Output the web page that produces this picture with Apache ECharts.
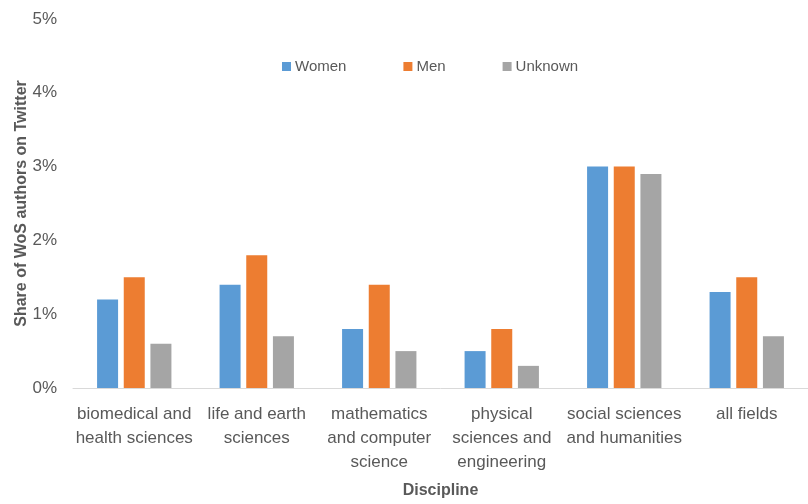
<!DOCTYPE html>
<html><head><meta charset="utf-8">
<script src="https://cdn.jsdelivr.net/npm/echarts@6/dist/echarts.min.js"></script>
<style>html,body{margin:0;padding:0;background:#fff}#c{width:808px;height:504px}</style>
</head><body><div id="c"></div>
<script>
const categories = ["biomedical and\nhealth sciences","life and earth\nsciences","mathematics\nand computer\nscience","physical\nsciences and\nengineering","social sciences\nand humanities","all fields"];
const women = [1.2, 1.4, 0.8, 0.5, 3.0, 1.3];
const men = [1.5, 1.8, 1.4, 0.8, 3.0, 1.5];
const unknown = [0.6, 0.7, 0.5, 0.3, 2.9, 0.7];
const seriesNames = ["Women","Men","Unknown"];
const FONT = "'Liberation Sans',Arial,sans-serif";
const chart = echarts.init(document.getElementById('c'));
chart.setOption({
  animation:false,
  color:['#5B9BD5','#ED7D31','#A5A5A5'],
  textStyle:{fontFamily:FONT},
  grid:{left:73,right:0,top:19,bottom:114,containLabel:false},
  legend:{data:seriesNames,top:59,left:282,padding:0,itemWidth:9,itemHeight:9,itemGap:57,icon:'rect',
    textStyle:{fontFamily:FONT,fontSize:15,color:'#595959',padding:[0,0,0,-1]}},
  xAxis:{type:'category',data:categories,
    axisLine:{lineStyle:{color:'#D9D9D9',width:1}},axisTick:{show:false},
    axisLabel:{interval:0,margin:14,fontFamily:FONT,fontSize:17,color:'#595959',lineHeight:24},
    name:'Discipline',nameLocation:'middle',nameGap:95,nameMoveOverlap:false,
    nameTextStyle:{fontFamily:FONT,fontSize:16,fontWeight:'bold',color:'#595959'}},
  yAxis:{type:'value',min:0,max:5,interval:1,
    splitLine:{show:false},axisLine:{show:false},axisTick:{show:false},
    axisLabel:{formatter:'{value}%',margin:16,fontFamily:FONT,fontSize:17,color:'#595959'},
    name:'Share of WoS authors on Twitter',nameLocation:'middle',nameGap:43,nameRotate:90,nameMoveOverlap:false,
    nameTextStyle:{fontFamily:FONT,fontSize:16,fontWeight:'bold',color:'#595959'}},
  series:[
    {name:seriesNames[0],type:'bar',data:women,barWidth:21,barGap:'27%'},
    {name:seriesNames[1],type:'bar',data:men,barWidth:21,barGap:'27%'},
    {name:seriesNames[2],type:'bar',data:unknown,barWidth:21,barGap:'27%'}
  ]
});
</script></body></html>
